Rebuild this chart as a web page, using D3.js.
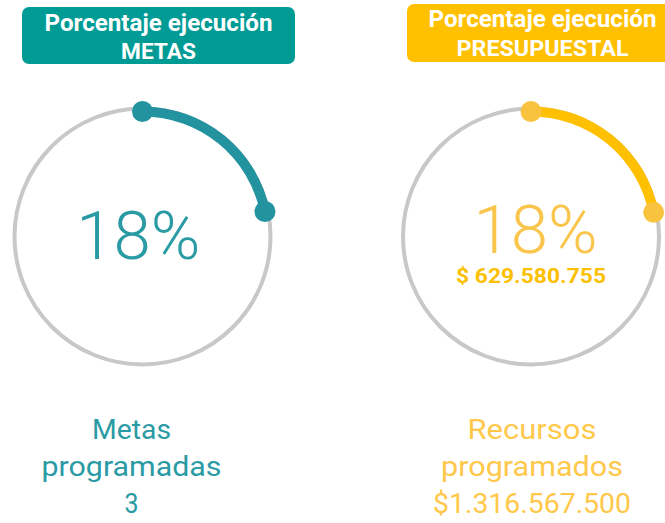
<!DOCTYPE html>
<html>
<head>
<meta charset="utf-8">
<script src="https://cdn.jsdelivr.net/npm/d3@7"></script>
<style>
  body { margin: 0; background: #fff; }
  text { font-family: Roboto, "Noto Sans", sans-serif; }
</style>
</head>
<body>
<div id="chart"></div>
<script>
// data
const gauges = ['METAS', 'PRESUPUESTAL'];
const headerTitle = ['Porcentaje ejecución', 'Porcentaje ejecución'];
const percentLabels = ['18%', '18%'];
const arcShare = [0.218, 0.219];            // share of the ring that is filled
const amountLabels = ['', '$ 629.580.755'];
const footerLines = [
  ['Metas', 'programadas', '3'],
  ['Recursos', 'programados', '$1.316.567.500']
];

const width = 665;
const height = 523;

const palette = {
  METAS: { header: '#009b95', arc: '#23939f', dot: '#23939f', big: '#2a9aa4', amount: '#2a9aa4', foot: '#2a9aa4' },
  PRESUPUESTAL: { header: '#ffc000', arc: '#ffc000', dot: '#f9c340', big: '#f9c54c', amount: '#fcc000', foot: '#ffc84a' }
};

const svg = d3.select('#chart')
              .append('svg')
              .attr('width', width)
              .attr('height', height);

const xScale = d3.scalePoint()
                 .domain(gauges)
                 .range([142.5, 531]);

const angle = d3.scaleLinear()
                .domain([0, 1])
                .range([0, 2 * Math.PI]);

const cy = 236.5;
const ringR = 128;
const arcR = 125;

// header boxes
const headerBox = { METAS: [22, 7, 273, 57], PRESUPUESTAL: [407, 4, 270, 58] };
const headerSubW = { METAS: 75, PRESUPUESTAL: 172 };

gauges.forEach((g, i) => {
  const col = palette[g];
  const cx = xScale(g);
  const b = headerBox[g];
  const hx = i === 0 ? 158.5 : 542.5;

  svg.append('rect')
     .attr('x', b[0]).attr('y', b[1])
     .attr('width', b[2]).attr('height', b[3])
     .attr('rx', 7)
     .attr('fill', col.header);

  svg.append('text')
     .attr('x', hx).attr('y', i === 0 ? 30.5 : 26.5)
     .attr('text-anchor', 'middle')
     .attr('fill', '#fff')
     .attr('font-size', 23)
     .attr('font-weight', 700)
     .attr('textLength', 228)
     .attr('lengthAdjust', 'spacingAndGlyphs')
     .text(headerTitle[i]);

  svg.append('text')
     .attr('x', hx).attr('y', i === 0 ? 59 : 56)
     .attr('text-anchor', 'middle')
     .attr('fill', '#fff')
     .attr('font-size', 22.5)
     .attr('font-weight', 700)
     .attr('textLength', headerSubW[g])
     .attr('lengthAdjust', 'spacingAndGlyphs')
     .text(g);

  const gg = svg.append('g')
                .attr('transform', 'translate(' + cx + ',' + cy + ')');

  gg.append('circle')
    .attr('r', ringR)
    .attr('fill', 'none')
    .attr('stroke', '#c8c8c8')
    .attr('stroke-width', 4);

  gg.append('path')
    .attr('d', d3.arc()
                 .innerRadius(arcR - 5)
                 .outerRadius(arcR + 5)
                 .startAngle(0)
                 .endAngle(angle(arcShare[i]))())
    .attr('fill', col.arc);

  [0, arcShare[i]].forEach((v) => {
    const a = angle(v);
    gg.append('circle')
      .attr('cx', arcR * Math.sin(a))
      .attr('cy', -arcR * Math.cos(a))
      .attr('r', 10.5)
      .attr('fill', col.dot);
  });

  svg.append('text')
     .attr('x', i === 0 ? 138.3 : 535.5)
     .attr('y', i === 0 ? 258.5 : 253)
     .attr('text-anchor', 'middle')
     .attr('fill', col.big)
     .attr('font-family', 'Lato, Roboto, sans-serif')
     .attr('font-weight', 300)
     .attr('font-size', 66)
     .attr('textLength', 124)
     .attr('lengthAdjust', 'spacingAndGlyphs')
     .text(percentLabels[i]);

  if (amountLabels[i]) {
    svg.append('text')
       .attr('x', 531).attr('y', 283)
       .attr('text-anchor', 'middle')
       .attr('fill', col.amount)
       .attr('font-weight', 700)
       .attr('font-size', 20)
       .attr('textLength', 150)
       .attr('lengthAdjust', 'spacingAndGlyphs')
       .text(amountLabels[i]);
  }

  const footX = i === 0 ? 131.5 : 532;
  const footW = i === 0 ? [79, 180, 14] : [129, 182, 198];
  footerLines[i].forEach((line, j) => {
    svg.append('text')
       .attr('x', footX)
       .attr('y', 438.5 + j * 37.3)
       .attr('text-anchor', 'middle')
       .attr('fill', col.foot)
       .attr('font-weight', 400)
       .attr('font-size', 27)
       .attr('textLength', footW[j])
       .attr('lengthAdjust', 'spacingAndGlyphs')
       .text(line);
  });
});
</script>
</body>
</html>
